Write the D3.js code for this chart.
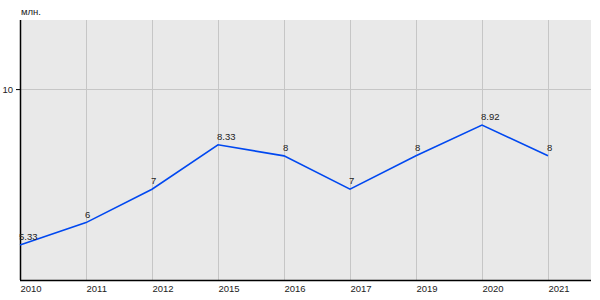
<!DOCTYPE html>
<html><head><meta charset="utf-8">
<script src="https://cdn.jsdelivr.net/npm/d3@7"></script>
<style>body{margin:0;background:#fff}svg{display:block;font-family:"Liberation Sans",Arial,sans-serif}</style>
</head><body><div id="c"></div>
<script>
const years = ["2010","2011","2012","2015","2016","2017","2019","2020","2021"];
const values = [5.33, 6, 7, 8.33, 8, 7, 8, 8.92, 8];
const yTicks = [10];
const unitLabel = "млн.";

(function(){
const W = 600, H = 300;
const mLeft = 20, mRight = 591, mTop = 20, mBottom = 280;
const fs = 9.5;
const svg = d3.select("#c").append("svg").attr("width", W).attr("height", H);

const x = d3.scalePoint().domain(years).range([mLeft, 548]);
const y = d3.scaleLinear().domain([4.28, 12.07]).range([mBottom, mTop]);

svg.append("rect").attr("x", mLeft).attr("y", mTop).attr("width", mRight-mLeft).attr("height", mBottom-mTop).attr("fill", "#e9e9e9");

svg.append("g").selectAll("line").data(years).join("line")
  .attr("x1", d => x(d)+0.5).attr("x2", d => x(d)+0.5).attr("y1", mTop).attr("y2", mBottom)
  .attr("stroke", "#c6c6c6").attr("stroke-width", 1);
svg.append("g").selectAll("line").data(yTicks).join("line")
  .attr("x1", mLeft).attr("x2", mRight).attr("y1", d => Math.round(y(d))+0.5).attr("y2", d => Math.round(y(d))+0.5)
  .attr("stroke", "#c6c6c6").attr("stroke-width", 1);

const yAxis = d3.axisLeft(y).tickValues(yTicks).tickSize(4).tickPadding(3);
const gy = svg.append("g").attr("transform", `translate(${mLeft},0)`).call(yAxis);
gy.select(".domain").remove();
gy.selectAll("text").attr("font-size", fs).attr("fill", "#222").attr("font-family", "Liberation Sans, Arial, sans-serif");
svg.append("line").attr("x1", mLeft+0.5).attr("x2", mLeft+0.5).attr("y1", mTop).attr("y2", mBottom).attr("stroke", "#000").attr("stroke-width", 1.5);

const xAxis = d3.axisBottom(x).tickSize(0).tickPadding(0);
const gx = svg.append("g").attr("transform", `translate(0,${mBottom})`).call(xAxis);
gx.select(".domain").remove();
gx.selectAll("text").attr("font-size", fs).attr("fill", "#222").attr("text-anchor", "start").attr("dy", null).attr("y", 12)
  .attr("font-family", "Liberation Sans, Arial, sans-serif");
svg.append("line").attr("x1", mLeft).attr("x2", mRight).attr("y1", mBottom+0.5).attr("y2", mBottom+0.5).attr("stroke", "#000").attr("stroke-width", 1.5);

svg.append("text").attr("x", 21).attr("y", 15).attr("font-size", fs).attr("fill", "#222").text(unitLabel);

const data = years.map((d,i) => ({k:d, v:values[i]}));
svg.append("path").datum(data)
  .attr("d", d3.line().x(d => x(d.k)).y(d => y(d.v)))
  .attr("fill", "none").attr("stroke", "#0048f0").attr("stroke-width", 1.6);

svg.append("g").selectAll("text").data(data).join("text")
  .attr("x", d => x(d.k)-1).attr("y", d => y(d.v) - 5)
  .attr("font-size", fs).attr("fill", "#222")
  .text(d => d3.format("~g")(d.v));
})();
</script></body></html>
